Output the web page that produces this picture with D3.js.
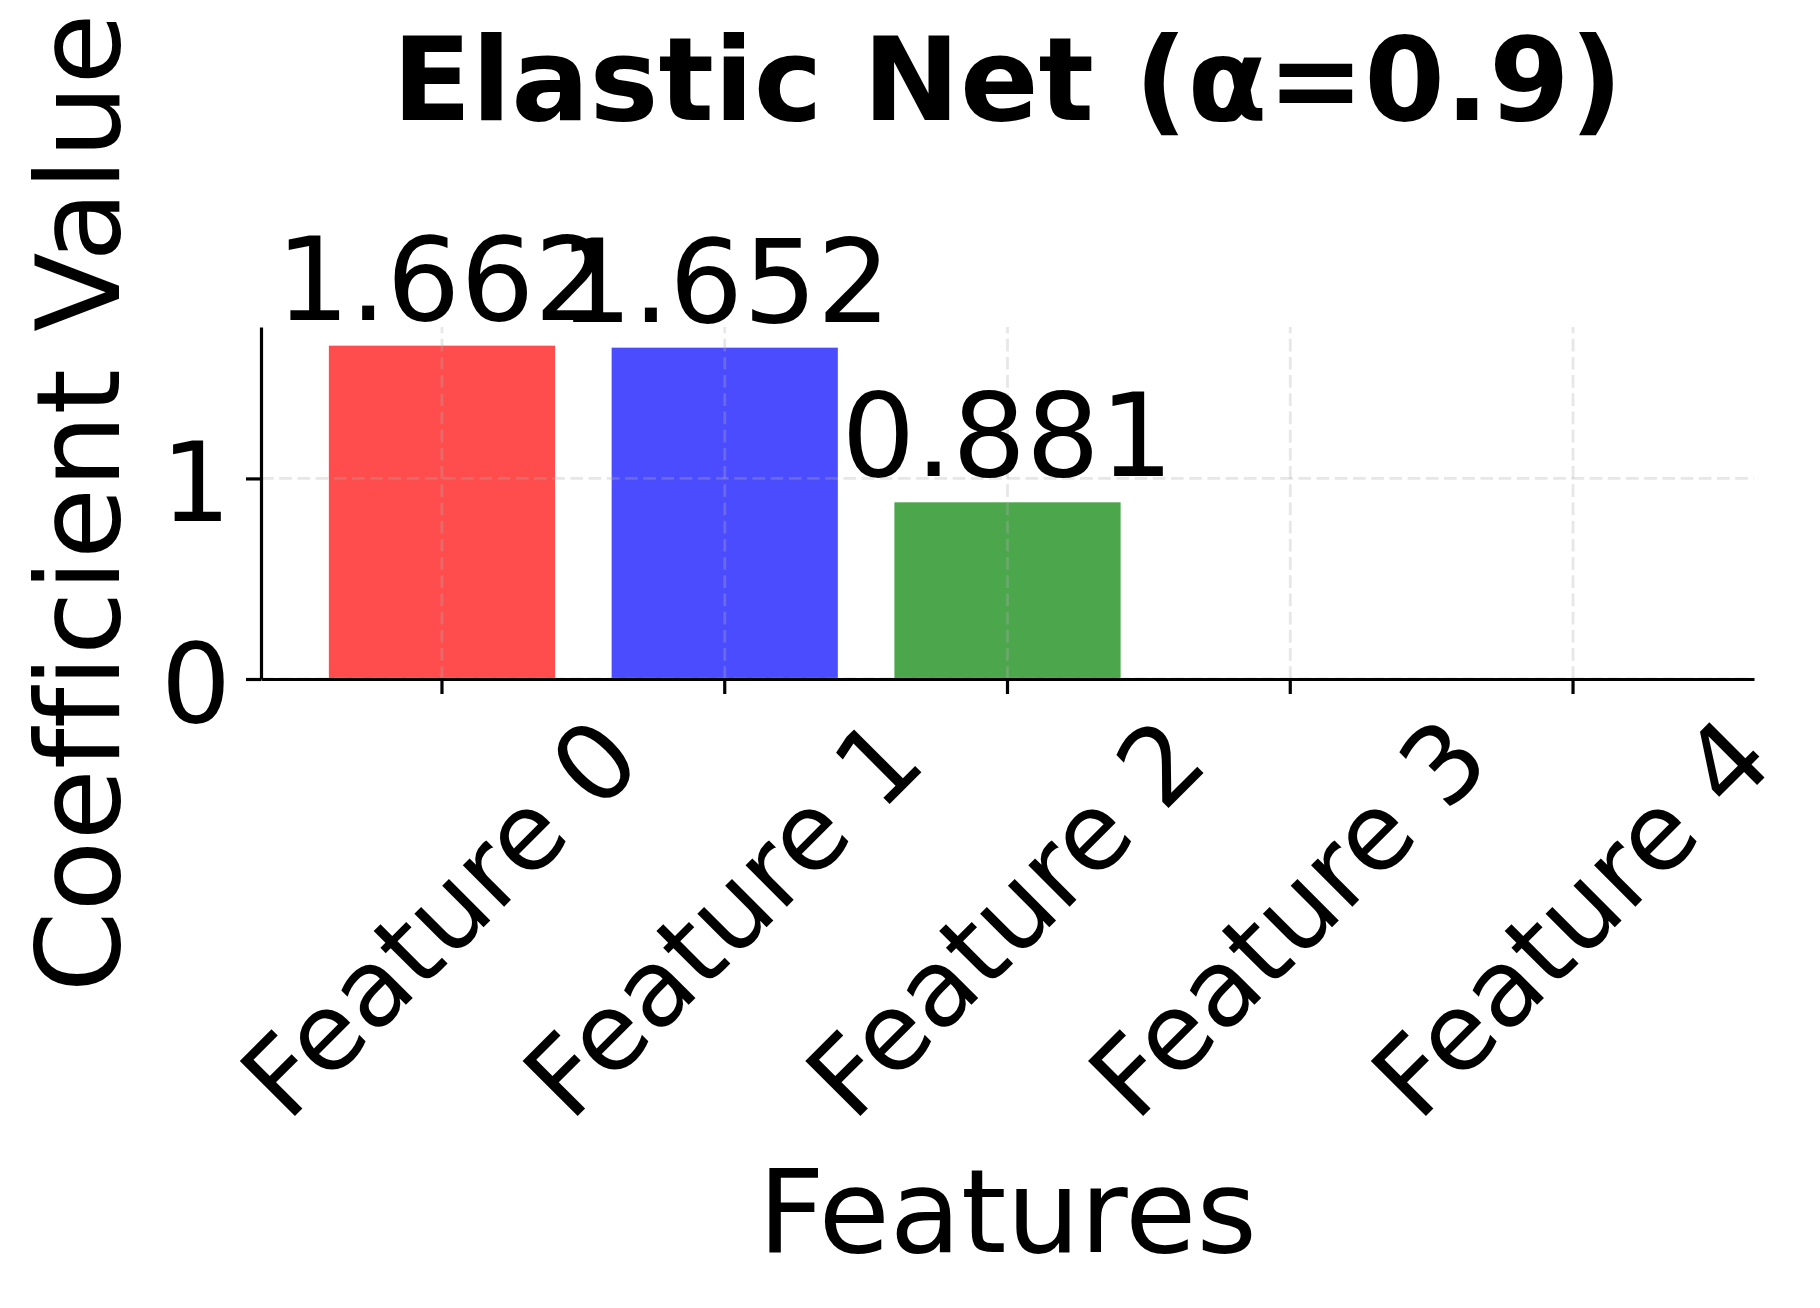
<!DOCTYPE html>
<html>
<head>
<meta charset="utf-8">
<script src="https://cdn.jsdelivr.net/npm/d3@7"></script>
<style>
  html, body { margin: 0; padding: 0; background: #fff; }
  svg { display: block; font-family: "DejaVu Sans", sans-serif; font-variant-ligatures: none; font-feature-settings: "liga" 0, "clig" 0; }
</style>
</head>
<body>
<svg id="chart" width="1820" height="1308"></svg>
<script>
const categories = ["Feature 0", "Feature 1", "Feature 2", "Feature 3", "Feature 4"];
const coefficients = [1.662, 1.652, 0.881, 0.0, 0.0];
const barColors = ["#ff0000", "#0000ff", "#008000", "#800080", "#ffa500"];
const yTicks = [0, 1];
const titleText = "Elastic Net (α=0.9)";
const xLabel = "Features";
const yLabel = "Coefficient Value";

const svg = d3.select("#chart");
const L = 261, R = 1754, T = 327, B = 679;

const x = d3.scaleBand().domain(categories).range([L, R]).paddingInner(0.2).paddingOuter(0.24);
const y = d3.scaleLinear().domain([0, 1.755]).range([B, T]);

// bars
svg.append("g").selectAll("rect").data(coefficients).join("rect")
  .attr("x", (d, i) => x(categories[i]))
  .attr("width", x.bandwidth())
  .attr("y", d => y(Math.max(d, 0)))
  .attr("height", d => Math.abs(y(0) - y(d)))
  .attr("fill", (d, i) => barColors[i])
  .attr("fill-opacity", 0.7);

// grid (drawn above bars)
const grid = svg.append("g").attr("stroke", "#b0b0b0").attr("stroke-opacity", 0.3)
  .attr("stroke-width", 2.8).attr("stroke-dasharray", "12.7,5.5");
grid.selectAll("line.h").data(yTicks).join("line").attr("class", "h")
  .attr("x1", L).attr("x2", R).attr("y1", d => y(d)).attr("y2", d => y(d));
grid.selectAll("line.v").data(categories).join("line").attr("class", "v")
  .attr("x1", d => x(d) + x.bandwidth() / 2).attr("x2", d => x(d) + x.bandwidth() / 2)
  .attr("y1", B).attr("y2", T);

// axes
const yAxis = svg.append("g").attr("transform", `translate(${L},0)`)
  .call(d3.axisLeft(y).tickValues(yTicks).tickFormat(d3.format("d")).tickSize(15).tickSizeOuter(0).tickPadding(15));
const xAxis = svg.append("g").attr("transform", `translate(0,${B})`)
  .call(d3.axisBottom(x).tickSize(15).tickSizeOuter(0).tickFormat(() => ""));
[yAxis, xAxis].forEach(a => {
  a.select(".domain").attr("stroke", "#000").attr("stroke-width", 3.2);
  a.selectAll(".tick line").attr("stroke", "#000").attr("stroke-width", 3.2);
});
yAxis.selectAll(".tick text").attr("font-size", 110).attr("font-family", "DejaVu Sans")
  .attr("fill", "#000").attr("dy", null).attr("y", 42);

// rotated x tick labels
svg.append("g").selectAll("text").data(categories).join("text")
  .attr("transform", d => `translate(${x(d) + x.bandwidth() / 2 - 2},918) rotate(-45)`)
  .attr("text-anchor", "middle").attr("dy", "0.35em")
  .attr("font-size", 107).attr("fill", "#000")
  .text(d => d);

// value labels
svg.append("g").selectAll("text").data(coefficients).join("text")
  .filter(d => d !== 0)
  .attr("x", (d, i) => x(categories[i]) + x.bandwidth() / 2)
  .attr("y", d => y(d) - 26)
  .attr("text-anchor", "middle").attr("font-size", 116).attr("fill", "#000")
  .text(d => d.toFixed(3));

// title & axis labels
svg.append("text").attr("x", (L + R) / 2).attr("y", 120).attr("text-anchor", "middle")
  .attr("font-size", 116).attr("font-weight", "bold").text(titleText);
svg.append("text").attr("x", (L + R) / 2).attr("y", 1252).attr("text-anchor", "middle")
  .attr("font-size", 116).text(xLabel);
svg.append("text").attr("transform", `translate(119,${(T + B) / 2}) rotate(-90)`)
  .attr("text-anchor", "middle").attr("font-size", 116).text(yLabel);
</script>
</body>
</html>
